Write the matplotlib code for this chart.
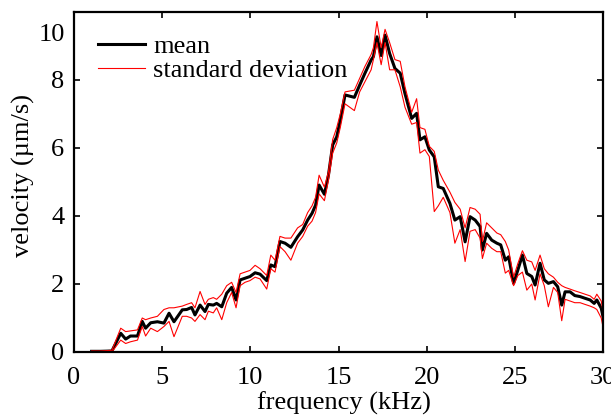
import numpy as np
import matplotlib
matplotlib.use('Agg')
import matplotlib.pyplot as plt

plt.rcParams['font.family'] = ['Liberation Serif', 'DejaVu Serif']
plt.rcParams['mathtext.fontset'] = 'stix'

# 頻率 (kHz) 與速度 (µm/s)
freq = [1.0, 1.5, 2.15, 2.65, 2.93, 3.2, 3.6, 3.87, 4.06, 4.35, 4.73, 5.1, 5.39, 5.67,
        6.14, 6.39, 6.67, 6.86, 7.15, 7.43, 7.62, 7.9, 8.09, 8.38, 8.66, 8.94, 9.19,
        9.42, 9.7, 9.98, 10.27, 10.55, 10.93, 11.16, 11.4, 11.68, 11.97, 12.3, 12.68,
        12.97, 13.25, 13.5, 13.7, 13.9, 14.2, 14.43, 14.67, 14.9, 15.1, 15.37, 15.9,
        16.2, 16.5, 16.85, 16.98, 17.18, 17.42, 17.64, 17.9, 18.2, 18.5, 18.77, 19.15,
        19.43, 19.62, 19.9, 20.15, 20.43, 20.66, 20.94, 21.32, 21.6, 21.9, 22.18, 22.46,
        22.75, 23.03, 23.16, 23.4, 23.69, 23.98, 24.2, 24.46, 24.65, 24.93, 25.17, 25.43,
        25.68, 25.96, 26.15, 26.43, 26.67, 26.9, 27.19, 27.43, 27.66, 27.85, 28.13, 28.4,
        28.7, 28.98, 29.27, 29.5, 29.65, 29.9, 30.0]

mean = [0.02, 0.02, 0.03, 0.55, 0.38, 0.47, 0.47, 0.9, 0.7, 0.86, 0.89, 0.85, 1.14, 0.89,
        1.24, 1.25, 1.31, 1.09, 1.38, 1.19, 1.4, 1.38, 1.43, 1.33, 1.73, 1.9, 1.53,
        2.12, 2.17, 2.22, 2.33, 2.29, 2.1, 2.56, 2.51, 3.25, 3.2, 3.08, 3.39,
        3.59, 3.88, 4.08, 4.32, 4.91, 4.64, 5.2, 6.09, 6.33, 6.82, 7.56, 7.49,
        7.85, 8.2, 8.59, 8.69, 9.27, 8.72, 9.32, 8.78, 8.34, 8.2, 7.6, 6.87,
        7.02, 6.24, 6.33, 5.94, 5.74, 4.86, 4.81, 4.37, 3.88, 3.98, 3.24, 3.98,
        3.88, 3.69, 3.0, 3.49, 3.29, 3.2, 3.15, 2.7, 2.8, 2.02, 2.41, 2.85,
        2.31, 2.22, 1.97, 2.61, 2.12, 2.02, 2.07, 1.92, 1.38, 1.77, 1.77, 1.66,
        1.63, 1.58, 1.53, 1.43, 1.53, 1.29, 1.04]

upper = [0.03, 0.03, 0.05, 0.7, 0.6, 0.62, 0.65, 1.0, 0.95, 1.0, 1.05, 1.25, 1.3, 1.3,
         1.35, 1.4, 1.45, 1.3, 1.78, 1.4, 1.55, 1.6, 1.55, 1.7, 1.95, 2.05, 1.75,
         2.3, 2.35, 2.4, 2.55, 2.45, 2.25, 2.85, 2.7, 3.4, 3.35, 3.35, 3.65,
         3.75, 4.1, 4.3, 4.55, 5.2, 4.85, 5.3, 6.25, 6.6, 7.0, 7.65, 7.7,
         8.05, 8.4, 8.75, 8.95, 9.72, 8.95, 9.49, 9.1, 8.6, 8.55, 7.8, 7.05,
         7.45, 6.6, 6.55, 6.05, 5.9, 5.35, 5.05, 4.7, 4.4, 4.2, 3.65, 4.25,
         4.2, 4.05, 3.25, 3.8, 3.65, 3.5, 3.45, 3.25, 3.0, 2.2, 2.6, 2.98,
         2.7, 2.65, 2.4, 2.85, 2.45, 2.3, 2.2, 2.05, 1.95, 1.9, 1.85, 1.8,
         1.75, 1.7, 1.65, 1.55, 1.7, 1.5, 1.2]

lower = [-0.02, -0.03, 0.0, 0.35, 0.25, 0.3, 0.35, 0.75, 0.47, 0.7, 0.6, 0.75, 0.9, 0.45,
         1.05, 1.05, 1.0, 0.9, 1.1, 0.95, 1.2, 1.15, 1.3, 0.95, 1.45, 1.75, 1.3,
         1.95, 2.05, 2.1, 2.2, 2.15, 1.85, 2.45, 2.35, 3.1, 2.95, 2.7, 3.2,
         3.4, 3.7, 3.85, 4.1, 4.65, 4.45, 5.05, 5.85, 6.15, 6.6, 7.3, 7.1,
         7.65, 7.95, 8.3, 8.6, 9.1, 8.45, 9.1, 8.3, 8.3, 7.8, 7.2, 6.7,
         6.75, 5.85, 5.95, 5.75, 4.13, 4.3, 4.55, 4.1, 3.2, 3.6, 2.66, 3.55,
         3.6, 3.35, 2.75, 3.2, 3.05, 2.95, 2.95, 2.32, 2.4, 1.95, 2.25, 2.35,
         1.82, 2.0, 1.53, 2.3, 1.95, 1.33, 1.9, 1.75, 0.92, 1.55, 1.5, 1.45,
         1.45, 1.4, 1.35, 1.3, 1.25, 1.0, 0.74]

fig = plt.figure(figsize=(6.11, 4.18), dpi=100)
ax = fig.add_axes([74 / 611, 66 / 418, 529 / 611, 340 / 418])

ax.plot(freq, mean, color='black', lw=2.2, label='mean')
ax.plot(freq, upper, color='red', lw=0.8, label='standard deviation')
ax.plot(freq, lower, color='red', lw=0.8)

ax.set_xlim(0, 30)
ax.set_ylim(0, 10)
ax.set_xticks([0, 5, 10, 15, 20, 25, 30])
ax.set_yticks([0, 2, 4, 6, 8])
ax.tick_params(direction='in', top=True, right=True, length=4.5, width=1.2,
               labelsize=19)
ax.tick_params(axis='x', pad=11)
ax.tick_params(axis='y', pad=7)
# 10 的刻度標籤位置較低
ax.text(-0.017, 9.32, '10', transform=ax.get_yaxis_transform(),
        ha='right', va='center', fontsize=19)
for s in ax.spines.values():
    s.set_linewidth(1.6)

ax.set_xlabel('frequency (kHz)', fontsize=19)
ax.set_ylabel('velocity (µm/s)', fontsize=19)
ax.xaxis.set_label_coords(0.51, -0.115)
ax.yaxis.set_label_coords(-0.074, 0.52)

ax.legend(loc='upper left', bbox_to_anchor=(0.025, 0.965), frameon=False,
          fontsize=19, handlelength=1.8, handletextpad=0.3, labelspacing=0.03,
          borderaxespad=0)

fig.savefig('out.png', dpi=100)
